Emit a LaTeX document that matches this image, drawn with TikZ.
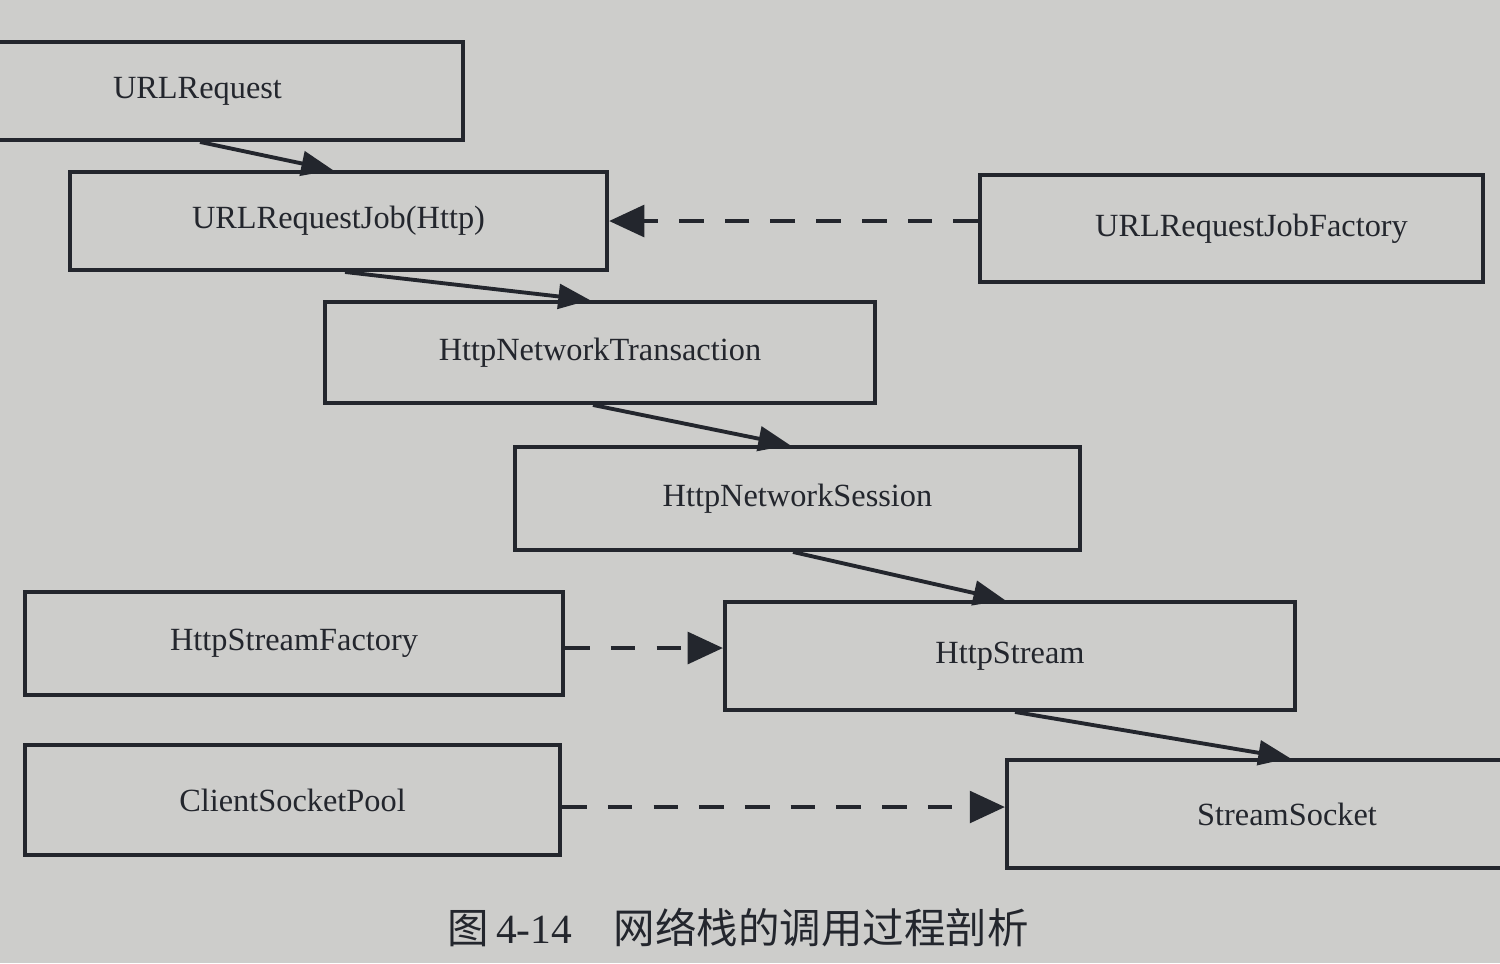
\documentclass[tikz,border=0pt]{standalone}
\usepackage{fontspec}
\setmainfont{Liberation Serif}
\newfontfamily\cjk{Noto Sans CJK SC}
\usetikzlibrary{arrows.meta}
\definecolor{paper}{RGB}{205,205,203}
\definecolor{ink}{RGB}{35,38,45}
\tikzset{
  box/.style={draw=ink, line width=1.1pt, inner sep=0pt, text=ink, font=\fontsize{9.2}{11}\selectfont},
  flow/.style={draw=ink, line width=1.1pt, -{Triangle[length=9pt,width=7pt]}},
  dep/.style={draw=ink, line width=1.1pt, dash pattern=on 7pt off 6pt, -{Triangle[length=10pt,width=9pt]}},
}
\begin{document}
\begin{tikzpicture}[x=0.01cm,y=-0.01cm]
\fill[paper] (0,0) rectangle (1500,963);
\useasboundingbox (0,0) rectangle (1500,963);
\begin{scope}
\clip (0,0) rectangle (1500,963);
\node[box, minimum width=4.83cm, minimum height=0.98cm] (r) at (221.5,91) {URLRequest\hspace*{4.8mm}};
\node[box, minimum width=5.37cm, minimum height=0.98cm] (j) at (338.5,221) {URLRequestJob(Http)};
\node[box, minimum width=5.03cm, minimum height=1.07cm] (f) at (1231.5,228.5) {\hspace*{4mm}URLRequestJobFactory};
\node[box, minimum width=5.5cm, minimum height=1.01cm] (t) at (600,352.5) {HttpNetworkTransaction};
\node[box, minimum width=5.65cm, minimum height=1.03cm] (s) at (797.5,498.5) {HttpNetworkSession};
\node[box, minimum width=5.38cm, minimum height=1.03cm] (sf) at (294,643.5) {HttpStreamFactory};
\node[box, minimum width=5.7cm, minimum height=1.08cm] (hs) at (1010,656) {HttpStream};
\node[box, minimum width=5.35cm, minimum height=1.1cm] (cp) at (292.5,800) {ClientSocketPool};
\node[box, minimum width=5.23cm, minimum height=1.08cm] (ss) at (1268.5,814) {\hspace*{3.7mm}StreamSocket};
\end{scope}

\draw[flow] (r.south -| 200,0) -- (j.north -| 333,0);
\draw[dep] (f.west |- 0,221) -- (j.east);
\draw[flow] (j.south -| 345,0) -- (t.north -| 590,0);
\draw[flow] (t.south -| 593,0) -- (s.north -| 790,0);
\draw[flow] (s.south -| 793,0) -- (hs.north -| 1005,0);
\draw[flow] (hs.south -| 1015,0) -- (ss.north -| 1290,0);
\draw[dep] (sf.east |- 0,648) -- (hs.west |- 0,648);
\draw[dep] (cp.east |- 0,807) -- (ss.west |- 0,807);

\node[text=ink, font=\fontsize{11.8}{14}\selectfont, anchor=west, inner sep=0pt] (cap) at (447,928) {{\cjk 图}\,4-14\hspace{1em}{\cjk 网络栈的调用过程剖析}};
\end{tikzpicture}
\end{document}
